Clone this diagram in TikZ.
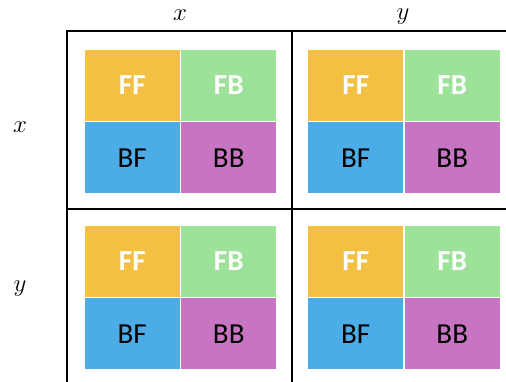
\documentclass[tikz,border=0pt]{standalone}
\usepackage{fontspec}
\setsansfont{Carlito}
\definecolor{cFF}{RGB}{244,192,66}
\definecolor{cFB}{RGB}{157,226,153}
\definecolor{cBF}{RGB}{76,172,232}
\definecolor{cBB}{RGB}{199,116,194}
\tikzset{
  cell/.style={rectangle, draw=white, line width=1.2pt, minimum width=96.5pt, minimum height=72.5pt, inner sep=0pt, font=\sffamily\fontsize{29}{33}\selectfont},
  light/.style={cell, text=white, font=\sffamily\bfseries\fontsize{29}{33}\selectfont},
  dark/.style={cell, text=black},
  grid/.style={line width=2.6pt, black},
  lab/.style={font=\fontsize{20}{24}\selectfont, inner sep=0pt, scale=1.2}
}
\newcommand{\blockat}[3]{%
  \node[light, fill=cFF] (#1ff) at (#2+48.25, -#3-36.25) {FF};
  \node[light, fill=cFB] (#1fb) at (#2+144.75, -#3-36.25) {FB};
  \node[dark, fill=cBF] (#1bf) at (#2+48.25, -#3-108.75) {BF};
  \node[dark, fill=cBB] (#1bb) at (#2+144.75, -#3-108.75) {BB};
}
\begin{document}
\begin{tikzpicture}[x=1pt,y=1pt]
\useasboundingbox (0,0) rectangle (506,-382);
\coordinate (tl) at (67,-31);
\coordinate (tr) at (506,-31);
\coordinate (bl) at (67,-382);
\coordinate (mt) at (292,-31);
\coordinate (mb) at (292,-382);
\coordinate (ml) at (67,-209);
\coordinate (mr) at (506,-209);
\draw[grid] (tr) -- (tl) -- (bl);
\draw[grid] (mt) -- (mb);
\draw[grid] (ml) -- (mr);
\blockat{a}{84}{49}
\blockat{b}{307.5}{49}
\blockat{c}{84}{225}
\blockat{d}{307.5}{225}
\node[lab] (hx) at (180,-15) {$x$};
\node[lab] (hy) at (403,-17) {$y$};
\node[lab] (vx) at (20,-127) {$x$};
\node[lab] (vy) at (20,-289) {$y$};
\end{tikzpicture}
\end{document}
